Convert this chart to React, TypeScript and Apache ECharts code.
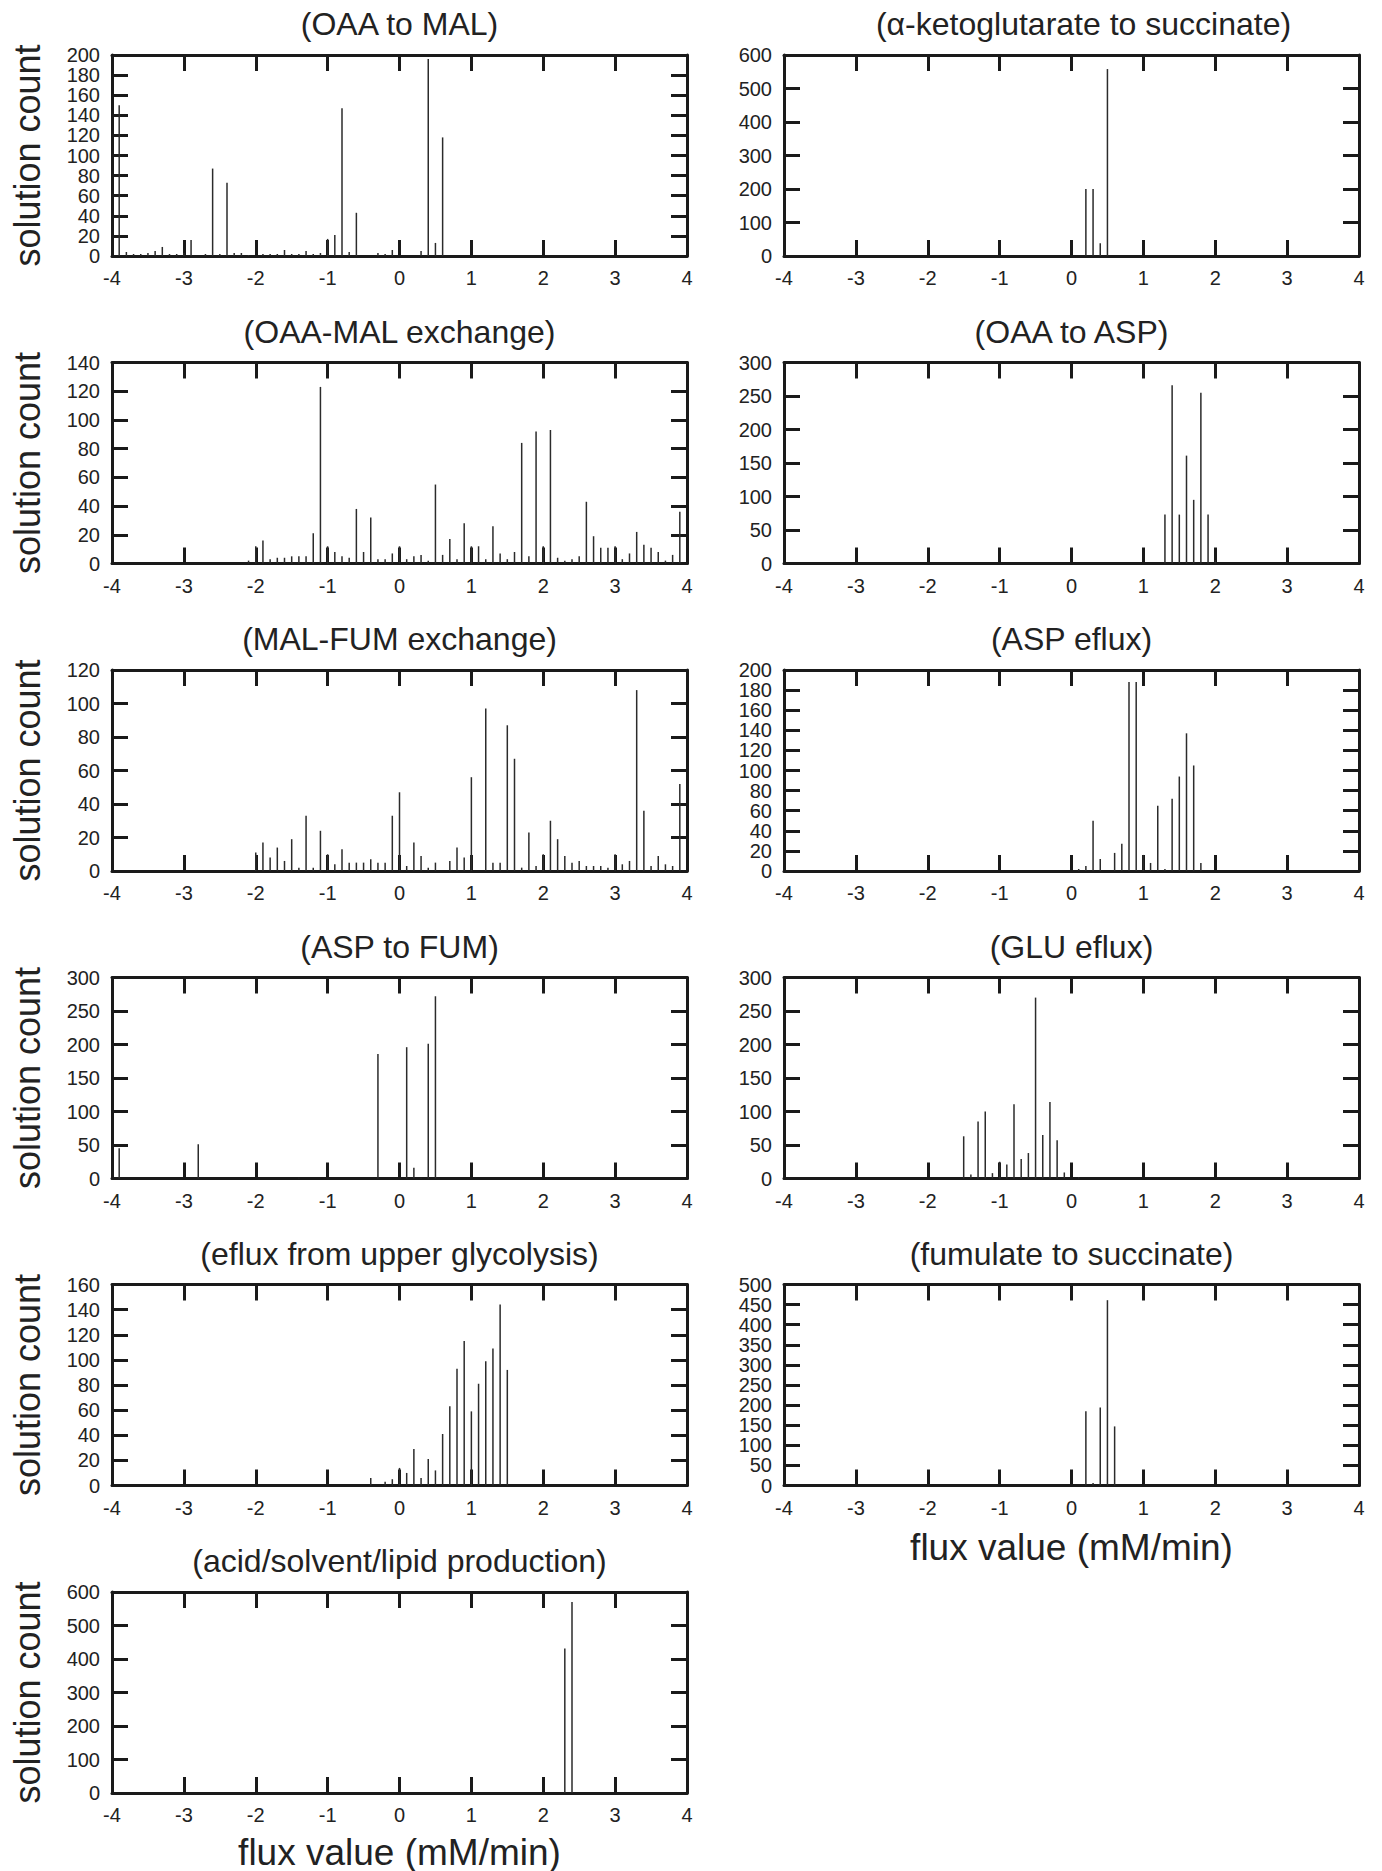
import React, { useEffect, useRef } from "react";
import * as echarts from "echarts";

// ---- data: [flux value, solution count] ----
const oaaToMal: number[][] = [
  [-3.9, 150], [-3.8, 4], [-3.7, 2], [-3.6, 2], [-3.5, 3], [-3.4, 5], [-3.3, 9], [-3.2, 2], [-3.1, 2],
  [-3.0, 3], [-2.9, 16], [-2.7, 2], [-2.6, 87], [-2.5, 2], [-2.4, 73], [-2.3, 3], [-2.2, 3], [-2.1, 1],
  [-1.9, 2], [-1.8, 2], [-1.7, 2], [-1.6, 6], [-1.5, 2], [-1.4, 2], [-1.3, 5], [-1.2, 2], [-1.1, 3],
  [-1.0, 17], [-0.9, 21], [-0.8, 147], [-0.7, 4], [-0.6, 43], [-0.3, 3], [-0.2, 2], [-0.1, 6],
  [0.3, 5], [0.4, 196], [0.5, 13], [0.6, 118],
];
const akgToSuccinate: number[][] = [[0.2, 200], [0.3, 200], [0.4, 38], [0.5, 558]];
const oaaMalExchange: number[][] = [
  [-2.1, 2], [-2.0, 12], [-1.9, 16], [-1.8, 3], [-1.7, 4], [-1.6, 4], [-1.5, 5], [-1.4, 5], [-1.3, 5],
  [-1.2, 21], [-1.1, 123], [-1.0, 12], [-0.9, 8], [-0.8, 5], [-0.7, 4], [-0.6, 38], [-0.5, 8], [-0.4, 32],
  [-0.3, 3], [-0.2, 3], [-0.1, 7], [0.0, 12], [0.1, 3], [0.2, 5], [0.3, 6], [0.4, 2], [0.5, 55],
  [0.6, 6], [0.7, 17], [0.8, 3], [0.9, 28], [1.0, 12], [1.1, 12], [1.2, 3], [1.3, 26], [1.4, 7],
  [1.5, 3], [1.6, 8], [1.7, 84], [1.8, 5], [1.9, 92], [2.0, 12], [2.1, 93], [2.2, 4], [2.3, 2],
  [2.4, 3], [2.5, 5], [2.6, 43], [2.7, 19], [2.8, 11], [2.9, 11], [3.0, 12], [3.1, 3], [3.2, 7],
  [3.3, 22], [3.4, 13], [3.5, 11], [3.6, 8], [3.7, 2], [3.8, 6], [3.9, 36],
];
const oaaToAsp: number[][] = [[1.3, 73], [1.4, 266], [1.5, 73], [1.6, 161], [1.7, 95], [1.8, 255], [1.9, 73], [2.0, 5]];
const malFumExchange: number[][] = [
  [-2.0, 11], [-1.9, 17], [-1.8, 8], [-1.7, 14], [-1.6, 6], [-1.5, 19], [-1.4, 2], [-1.3, 33], [-1.2, 2],
  [-1.1, 24], [-1.0, 10], [-0.9, 4], [-0.8, 13], [-0.7, 5], [-0.6, 5], [-0.5, 5], [-0.4, 7], [-0.3, 5],
  [-0.2, 5], [-0.1, 33], [0.0, 47], [0.1, 3], [0.2, 17], [0.3, 9], [0.4, 2], [0.5, 5], [0.7, 6],
  [0.8, 14], [0.9, 8], [1.0, 56], [1.2, 97], [1.3, 5], [1.4, 5], [1.5, 87], [1.6, 67], [1.7, 2],
  [1.8, 23], [1.9, 3], [2.0, 10], [2.1, 30], [2.2, 19], [2.3, 9], [2.4, 5], [2.5, 6], [2.6, 3],
  [2.7, 3], [2.8, 3], [2.9, 2], [3.0, 10], [3.1, 4], [3.2, 6], [3.3, 108], [3.4, 36], [3.5, 3],
  [3.6, 9], [3.7, 4], [3.8, 3], [3.9, 52],
];
const aspEflux: number[][] = [
  [0.1, 2], [0.2, 5], [0.3, 50], [0.4, 12], [0.6, 18], [0.7, 27], [0.8, 188], [0.9, 188], [1.0, 16],
  [1.1, 8], [1.2, 65], [1.3, 2], [1.4, 72], [1.5, 94], [1.6, 137], [1.7, 105], [1.8, 8],
];
const aspToFum: number[][] = [[-3.9, 45], [-2.8, 51], [-1.4, 1], [-0.3, 186], [0.1, 196], [0.2, 16], [0.3, 1], [0.4, 201], [0.5, 272]];
const gluEflux: number[][] = [
  [-1.5, 63], [-1.4, 6], [-1.3, 85], [-1.2, 100], [-1.1, 8], [-1.0, 25], [-0.9, 21], [-0.8, 111],
  [-0.7, 29], [-0.6, 38], [-0.5, 270], [-0.4, 65], [-0.3, 114], [-0.2, 57], [-0.1, 9], [0.1, 2],
];
const upperGlycolysisEflux: number[][] = [
  [-0.4, 6], [-0.2, 3], [-0.1, 5], [0.0, 14], [0.1, 10], [0.2, 29], [0.3, 6], [0.4, 21], [0.5, 12],
  [0.6, 41], [0.7, 63], [0.8, 93], [0.9, 115], [1.0, 59], [1.1, 81], [1.2, 99], [1.3, 109], [1.4, 144], [1.5, 92],
];
const fumarateToSuccinate: number[][] = [[0.2, 185], [0.3, 6], [0.4, 194], [0.5, 461], [0.6, 147]];
const acidSolventLipid: number[][] = [[2.3, 431], [2.4, 570]];

const titles = [
  "(OAA to MAL)", "(α-ketoglutarate to succinate)", "(OAA-MAL exchange)", "(OAA to ASP)",
  "(MAL-FUM exchange)", "(ASP eflux)", "(ASP to FUM)", "(GLU eflux)",
  "(eflux from upper glycolysis)", "(fumulate to succinate)", "(acid/solvent/lipid production)",
];
const seriesData = [
  oaaToMal, akgToSuccinate, oaaMalExchange, oaaToAsp, malFumExchange, aspEflux,
  aspToFum, gluEflux, upperGlycolysisEflux, fumarateToSuccinate, acidSolventLipid,
];
const yMaxes = [200, 600, 140, 300, 120, 200, 300, 300, 160, 500, 600];
const yIntervals = [20, 100, 20, 50, 20, 20, 50, 50, 20, 50, 100];
const xTicks = { min: -4, max: 4, interval: 1 };
const yAxisName = "solution count";
const xAxisName = "flux value (mM/min)";

// ---- layout ----
const FONT = "'Liberation Sans', Arial, Helvetica, sans-serif";
const W = 1382;
const H = 1871;
const colLeft = [112, 784];
const plotW = 575;
const rowTop = [55, 362.5, 670, 977.5, 1284.5, 1592];
const plotH = 201;
const titleShift = [0, 12, 0, 0, 0, 0, 0, 0, 0, 0, 0];
const INK = "#1a1a1a";

export default function App() {
  const ref = useRef<HTMLDivElement>(null);
  useEffect(() => {
    document.body.style.margin = "0";
    if (!ref.current) return;
    const chart = echarts.init(ref.current, null, { renderer: "svg" });

    const grids: any[] = [];
    const xAxes: any[] = [];
    const yAxes: any[] = [];
    const series: any[] = [];
    const graphic: any[] = [];

    const lineStyle = { color: INK, width: 3 };
    const tickStyle = { color: INK, width: 3 };

    titles.forEach((title, i) => {
      const col = i % 2;
      const row = Math.floor(i / 2);
      const left = colLeft[col];
      const top = rowTop[row];
      grids.push({ left, top, width: plotW, height: plotH, containLabel: false });
      const xBase = {
        type: "value",
        gridIndex: i,
        min: xTicks.min,
        max: xTicks.max,
        interval: xTicks.interval,
        splitLine: { show: false },
        axisLine: { show: true, onZero: false, lineStyle },
        axisTick: { show: true, inside: true, length: 16, lineStyle: tickStyle },
      };
      xAxes.push({
        ...xBase,
        position: "bottom",
        axisLabel: { show: true, fontSize: 20, fontFamily: FONT, color: "#222", margin: 12 },
      });
      xAxes.push({ ...xBase, position: "top", axisLabel: { show: false } });
      const yBase = {
        type: "value",
        gridIndex: i,
        min: 0,
        max: yMaxes[i],
        interval: yIntervals[i],
        splitLine: { show: false },
        axisLine: { show: true, onZero: false, lineStyle },
        axisTick: { show: true, inside: true, length: 16, lineStyle: tickStyle },
      };
      yAxes.push({
        ...yBase,
        position: "left",
        axisLabel: { show: true, fontSize: 20, fontFamily: FONT, color: "#222", margin: 12 },
      });
      yAxes.push({ ...yBase, position: "right", axisLabel: { show: false } });
      series.push({
        type: "bar",
        xAxisIndex: 2 * i,
        yAxisIndex: 2 * i,
        data: seriesData[i],
        barWidth: 1.5,
        itemStyle: { color: "#2b2b2b" },
        silent: true,
        z: 1,
      });
      graphic.push({
        type: "text",
        x: left + plotW / 2 + titleShift[i],
        y: top - 31,
        style: { text: title, font: `32px ${FONT}`, fill: "#222", align: "center", verticalAlign: "middle" },
      });
      if (col === 0) {
        graphic.push({
          type: "text",
          x: 27,
          y: top + plotH / 2,
          rotation: Math.PI / 2,
          style: { text: yAxisName, font: `36px ${FONT}`, fill: "#222", align: "center", verticalAlign: "middle" },
        });
      }
    });

    graphic.push({
      type: "text",
      x: colLeft[0] + plotW / 2,
      y: 1852,
      style: { text: xAxisName, font: `37px ${FONT}`, fill: "#222", align: "center", verticalAlign: "middle" },
    });
    graphic.push({
      type: "text",
      x: colLeft[1] + plotW / 2,
      y: 1547,
      style: { text: xAxisName, font: `37px ${FONT}`, fill: "#222", align: "center", verticalAlign: "middle" },
    });

    chart.setOption({
      animation: false,
      backgroundColor: "#ffffff",
      grid: grids,
      xAxis: xAxes,
      yAxis: yAxes,
      series,
      graphic,
    });
    return () => chart.dispose();
  }, []);
  return <div ref={ref} style={{ width: W, height: H }} />;
}
